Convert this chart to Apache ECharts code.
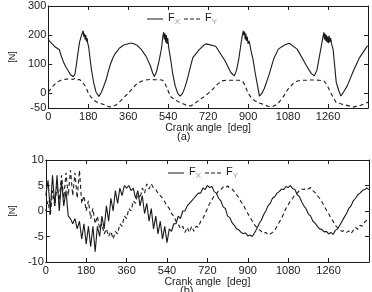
<!DOCTYPE html>
<html>
<head>
<meta charset="utf-8">
<script src="https://cdn.jsdelivr.net/npm/echarts@6/dist/echarts.min.js"></script>
<style>
html, body { margin: 0; padding: 0; background: #fff; }
#chart { width: 372px; height: 292px; }
</style>
</head>
<body>
<div id="chart"></div>
<script>
// (a) joint forces, angle [deg] / force [N]
var topFxAngle = [0, 4, 8, 12, 20, 30, 40, 50, 60, 70, 80, 90, 100, 112, 120, 127, 134, 141, 150, 157, 160, 163, 166, 169, 172, 175, 178, 182, 188, 195, 205, 215, 228,
    240, 250, 260, 270, 280, 290, 300, 320, 340, 368, 380, 400, 420, 440, 460, 470, 478, 488, 500, 510, 516, 520, 523, 526, 529, 532, 535, 538, 542, 551, 560, 572, 583, 594,
    605, 615, 625, 640, 651, 680, 700, 711, 754, 796, 823, 838, 848, 858, 866, 872, 878, 881, 884, 887, 890, 893, 896, 900, 905, 912, 922, 932, 943, 951,
    962, 973, 994, 1015, 1036, 1064, 1085, 1121, 1163, 1185, 1198, 1210, 1219, 1233, 1241, 1244, 1247, 1250, 1253, 1256, 1259, 1262, 1265, 1268, 1272, 1276, 1283, 1297, 1308, 1318,
    1330, 1346, 1374, 1402, 1438, 1440];
var topFx = [190, 180, 186, 175, 168, 160, 155, 150, 125, 105, 90, 78, 64, 58, 65, 100, 140, 176, 200, 215, 195, 205, 185, 200, 178, 190, 172, 160, 120, 80, 35, 5, -10,
    5, 25, 45, 75, 100, 120, 135, 155, 166, 172, 172, 165, 150, 128, 95, 70, 58, 75, 115, 155, 195, 210, 185, 205, 175, 200, 170, 190, 160, 118, 70, 25, 0, -9,
    0, 20, 45, 90, 123, 150, 165, 170, 162, 112, 71, 60, 80, 118, 160, 190, 215, 200, 212, 185, 205, 180, 195, 170, 180, 150, 118, 70, 25, -9,
    0, 17, 63, 118, 152, 166, 172, 152, 95, 68, 60, 80, 118, 176, 210, 185, 205, 180, 200, 175, 195, 172, 198, 176, 190, 170, 150, 38, 10, -9,
    5, 25, 77, 123, 164, 165];

var topFyAngle = [0, 10, 20, 30, 40, 50, 60, 80, 100, 110, 120, 130, 140, 150, 160, 170, 180, 190, 200, 212, 230, 250, 275, 290, 305, 320, 339,
    360, 380, 396, 420, 440, 460, 480, 500, 516, 525, 535, 550, 570, 593, 620, 642, 660, 680, 700, 720, 740, 760, 782, 800, 820, 840, 860, 873,
    885, 895, 905, 915, 930, 950, 970, 990, 1008, 1029, 1045, 1060, 1079, 1106, 1120, 1135, 1160, 1180, 1200, 1220, 1241, 1255, 1270, 1285, 1296,
    1320, 1340, 1360, 1375, 1400, 1420, 1440];
var topFy = [5, 14, 24, 32, 38, 43, 46, 49, 50, 48, 51, 46, 48, 42, 33, 20, 2, -10, -18, -27, -33, -38, -46, -45, -40, -30, -15,
    0, 18, 31, 42, 46, 48, 47, 47, 45, 35, 18, -10, -22, -31, -40, -43, -35, -22, -12, 0, 14, 30, 43, 45, 45, 45, 45, 43,
    30, 10, -5, -15, -25, -33, -38, -44, -46, -38, -25, -10, 14, 37, 42, 45, 45, 46, 46, 45, 43, 30, 5, -15, -30,
    -36, -40, -44, -46, -43, -37, -30];

// (b) angle step 10 deg, 0..1440
var bottomFx = [3, 6, 0, 7, 1, 7, 0, 6, 1, 4, -1, -1.5, -2.5, -1.5, -3.5, -2, -5.5, -2.5, -6.5, -3, -7, -3, -8, -3, -5, -1, -3.5, 1, -2, 2.5,
    0, 4, 1.5, 4.5, 3, 5, 4.5, 5, 4, 4.5, 2.5, 4, 1, 3, -0.5, 1.5, -2, 0.5, -3.5, -1, -4.5, -2, -5.5, -3, -6.2, -3.5, -4, -2.5, -2.5, -1,
    -1.5, 0, 0, 1, 1.5, 2, 2.5, 3, 3.5, 3.5, 4.5, 4.2, 5, 4.6, 4.8, 3.8, 3.5, 2.5, 2, 0.8, 0.5, -1, -1.3, -2.3, -2.8, -3.5, -3.7, -4.2, -4.4, -4.3,
    -4.9, -4.7, -5, -4.3, -3.5, -2.5, -1.8, -0.8, 0, 1, 1.5, 2.5, 2.8, 3.5, 3.8, 4.3, 4.2, 4.8, 4.6, 5, 4.4, 4.2, 3.2, 2.8, 1.8, 1, 0.4, -0.6, -1, -2,
    -2.4, -3, -3.5, -3.6, -4.1, -4, -4.5, -4.2, -4.6, -3.8, -3.5, -2.8, -2, -1.2, -0.5, 0.5, 1, 2, 2.5, 3.2, 3.5, 4, 4.2, 4.5, 4.2];
var bottomFy = [0, 2, -1, 4, 1, 5, 2, 7, 2.5, 7.5, 3, 8, 3, 7.5, 2.5, 8, 1.5, 3, 0, 2, -1.5, 0.5, -2.5, -1, -3.5, -2.5, -4.5, -3.5, -5, -4,
    -5.5, -4, -4.5, -2.5, -3, -1, -1.5, 0.5, 0, 2, 1.5, 3.5, 2.5, 4.5, 3.5, 5.3, 4.3, 5.3, 4.5, 4.2, 3.5, 3, 2.5, 1.8, 1, 0.5, -0.5, -1, -2, -2.5,
    -3.5, -3, -4.2, -3.2, -4.2, -3, -4, -3, -3.2, -2, -1.5, -0.5, 0.5, 1.5, 2.2, 3, 3.3, 4, 4.2, 4.7, 4.5, 4.9, 4.5, 4.3, 3.8, 3.2, 2.6, 1.8, 1.2, 0.3,
    -0.5, -1.2, -2, -2.7, -3.2, -3.6, -4, -4.4, -4.2, -4.7, -4.5, -4.2, -3.8, -3, -2.2, -1.5, -0.5, 0.5, 1.2, 2, 2.5, 3.2, 3.5, 4, 4.3, 4.2, 4.5, 4.3, 4.6, 4,
    3.6, 3, 2.5, 1.8, 1, 0.2, -0.5, -1.4, -2, -2.8, -3.3, -3.7, -4, -3.8, -4.2, -3.9, -4.4, -3.8, -3.2, -3.6, -2.8, -3, -2.2, -1.8, -1.5];

var angleTicks = [0, 180, 360, 540, 720, 900, 1080, 1260];
var topTicks = [-50, 0, 100, 200, 300];
var bottomTicks = [-10, -5, 0, 5, 10];

function pairs(xs, ys) {
    var out = [];
    for (var i = 0; i < ys.length; i++) {
        out.push([xs[i], ys[i]]);
    }
    return out;
}
var bottomAngle = [];
for (var a = 0; a <= 1440; a += 10) bottomAngle.push(a);

var ink = '#1a1a1a',
    font = 'Liberation Sans';
var plain = function (v) { return String(v); };

function xAx(grid, top) {
    return {
        type: 'value', gridIndex: grid, min: 0, max: 1440, position: top ? 'top' : 'bottom',
        axisLine: { show: true, onZero: false, lineStyle: { color: ink, width: 1 } },
        axisTick: { show: true, inside: true, length: 4, customValues: angleTicks, lineStyle: { color: ink } },
        axisLabel: { show: !top, customValues: angleTicks, formatter: plain, margin: 3, color: ink, fontSize: 11, fontFamily: font },
        splitLine: { show: false },
        name: top ? '' : 'Crank angle  [deg]', nameLocation: 'middle', nameGap: grid ? 12 : 9,
        nameTextStyle: { color: ink, fontSize: 10.5, fontFamily: font }
    };
}
function yAx(grid, right, min, max, ticks) {
    return {
        type: 'value', gridIndex: grid, min: min, max: max, position: right ? 'right' : 'left',
        axisLine: { show: true, onZero: false, lineStyle: { color: ink, width: 1 } },
        axisTick: { show: true, inside: true, length: 4, customValues: ticks, lineStyle: { color: ink } },
        axisLabel: { show: !right, customValues: ticks, formatter: plain, margin: 2, color: ink, fontSize: 11, fontFamily: font },
        splitLine: { show: false },
        name: right ? '' : '[N]', nameLocation: 'middle', nameRotate: 90, nameGap: grid ? 18 : 20,
        nameTextStyle: { color: ink, fontSize: 9, fontFamily: font }
    };
}
function line(name, grid, data, dashed) {
    return {
        name: name, type: 'line', xAxisIndex: grid * 2, yAxisIndex: grid * 2,
        data: data, symbol: 'none', showSymbol: false, silent: true,
        lineStyle: { color: ink, width: 1.1, type: dashed ? [4, 3] : 'solid' },
        itemStyle: { color: ink }
    };
}
function legend(left, top) {
    return {
        left: left, top: top, itemWidth: 16, itemHeight: 1, itemGap: 4, padding: 0,
        selectedMode: false,
        data: [
            { name: 'Fx', icon: 'path://M0,0H16V1H0Z' },
            { name: 'Fy', icon: 'path://M0,0H4V1H0ZM6,0H10V1H6ZM12,0H16V1H12Z' }
        ],
        itemStyle: { color: ink, borderWidth: 0 },
        formatter: function (n) { return n === 'Fx' ? '{a|F}{b|X}' : '{a|F}{b|Y}'; },
        textStyle: {
            rich: {
                a: { fontSize: 11, color: ink, fontFamily: font, lineHeight: 14, verticalAlign: 'top' },
                b: { fontSize: 8, color: '#999', fontFamily: font, lineHeight: 14, verticalAlign: 'bottom' }
            }
        }
    };
}

var chart = echarts.init(document.getElementById('chart'), null, { renderer: 'canvas' });
chart.setOption({
    animation: false,
    backgroundColor: '#fff',
    grid: [
        { left: 28, right: 4, top: 6, height: 102 },
        { left: 25, right: 3, top: 160, height: 102 }
    ],
    xAxis: [xAx(0, false), xAx(0, true), xAx(1, false), xAx(1, true)],
    yAxis: [yAx(0, false, -50, 300, topTicks), yAx(0, true, -50, 300, topTicks),
        yAx(1, false, -10, 10, bottomTicks), yAx(1, true, -10, 10, bottomTicks)],
    legend: [legend(147, 12), legend(168, 166)],
    title: [
        { text: '(a)', left: 177, top: 131, textStyle: { fontSize: 11, fontWeight: 'normal', color: ink, fontFamily: font }, padding: 0 },
        { text: '(b)', left: 180, top: 285, textStyle: { fontSize: 11, fontWeight: 'normal', color: ink, fontFamily: font }, padding: 0 }
    ],
    series: [
        line('Fx', 0, pairs(topFxAngle, topFx), false),
        line('Fy', 0, pairs(topFyAngle, topFy), true),
        line('Fx', 1, pairs(bottomAngle, bottomFx), false),
        line('Fy', 1, pairs(bottomAngle, bottomFy), true)
    ]
});
</script>
</body>
</html>
